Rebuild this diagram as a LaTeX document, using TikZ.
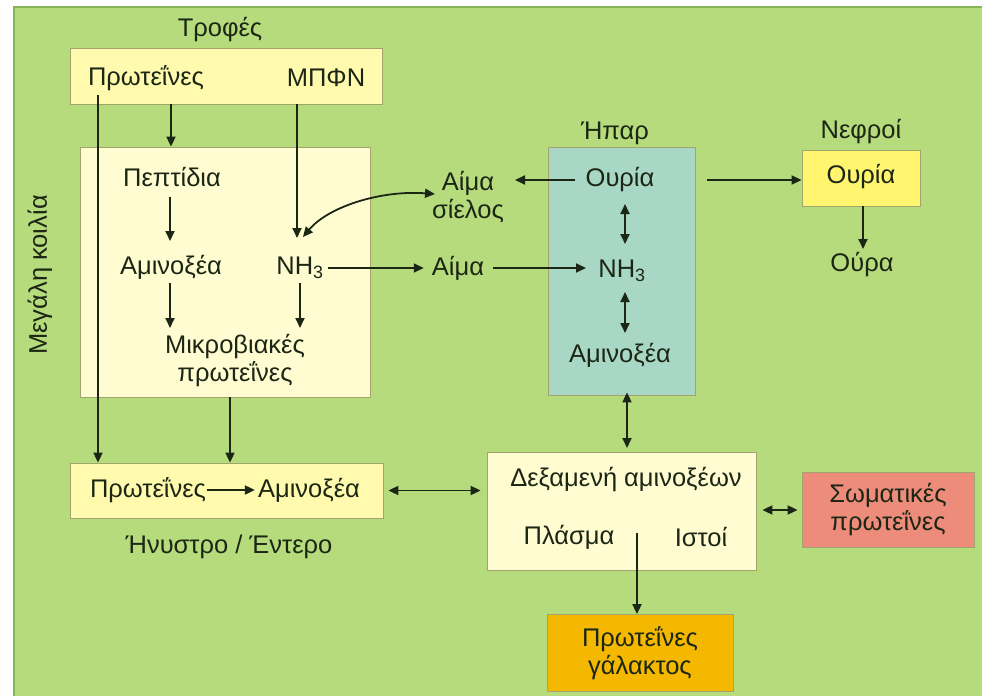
\documentclass[tikz,border=0pt]{standalone}
\usepackage{fontspec}
\setmainfont{Liberation Sans}
\usetikzlibrary{arrows.meta}
\definecolor{bggreen}{HTML}{B5DB7C}
\definecolor{bgedge}{HTML}{86B556}
\definecolor{paleyel}{HTML}{FFFAAE}
\definecolor{paleryel}{HTML}{FFFCD2}
\definecolor{liverc}{HTML}{A9D7C6}
\definecolor{kidneyc}{HTML}{FFF56E}
\definecolor{milkc}{HTML}{F4B800}
\definecolor{somac}{HTML}{EE8C7B}
\definecolor{inkc}{HTML}{1C2614}
\definecolor{edgec}{HTML}{A3A36E}
\begin{document}
\begin{tikzpicture}[x=1pt,y=-1pt,
  every node/.style={text=inkc,font=\fontsize{25.5}{28}\selectfont,inner sep=0pt},
  boxst/.style={draw=edgec,line width=0.8pt,rectangle},
  lbl/.style={align=center},
  arr/.style={draw=inkc,line width=1.8pt,-{Triangle[length=10pt,width=9pt]}},
  dbl/.style={draw=inkc,line width=1.8pt,{Triangle[length=10pt,width=9pt]}-{Triangle[length=10pt,width=9pt]}}]
\useasboundingbox (0,0) rectangle (982,696);
\fill[white] (0,0) rectangle (982,696);
\fill[bggreen] (13,6) rectangle (982,696);
\draw[bgedge,line width=2pt] (14,696) -- (14,7) -- (982,7);

% boxes
\node[boxst,fill=paleyel,minimum width=312pt,minimum height=56pt] (topbox) at (226,76) {};
\node[boxst,fill=paleryel,minimum width=290pt,minimum height=250pt] (rumen) at (225,272) {};
\node[boxst,fill=paleyel,minimum width=313pt,minimum height=55pt] (hbox) at (226.5,490.5) {};
\node[boxst,fill=paleryel,minimum width=269pt,minimum height=118pt] (pool) at (621.5,511) {};
\node[boxst,fill=milkc,minimum width=186pt,minimum height=77pt] (milk) at (640,653) {};
\node[boxst,fill=somac,minimum width=172pt,minimum height=75pt] (soma) at (888,509.5) {};
\node[boxst,fill=liverc,minimum width=147pt,minimum height=248pt] (liver) at (621.5,271) {};
\node[boxst,fill=kidneyc,minimum width=118pt,minimum height=56pt] (kidney) at (861,178) {};

% labels
\node (trofes) at (220,30) {Τροφές};
\node (prot1) at (146,78) {Πρωτεΐνες};
\node (mpfn) at (326,78) {ΜΠΦΝ};
\node[rotate=90] (megali) at (40,275) {Μεγάλη κοιλία};
\node (pept) at (172,177) {Πεπτίδια};
\node (amr) at (171,267) {Αμινοξέα};
\node (nh3r) at (300,268) {NH\textsubscript{3}};
\node[lbl] (mikro) at (235,361) {Μικροβιακές\\πρωτεΐνες};
\node (prot2) at (148,490) {Πρωτεΐνες};
\node (am2) at (309,490) {Αμινοξέα};
\node (hnystro) at (229,547) {Ήνυστρο / Έντερο};
\node[lbl] (aimas) at (468,197) {Αίμα\\σίελος};
\node (aima) at (458,268) {Αίμα};
\node (hpar) at (615,133) {Ήπαρ};
\node (ouriaL) at (620,180) {Ουρία};
\node (nh3L) at (622,271) {NH\textsubscript{3}};
\node (amL) at (620,355) {Αμινοξέα};
\node (nefroi) at (861,132) {Νεφροί};
\node (ouriaK) at (861,177) {Ουρία};
\node (oura) at (862,265) {Ούρα};
\node (dexam) at (626,480) {Δεξαμενή αμινοξέων};
\node (plasma) at (569,537) {Πλάσμα};
\node (istoi) at (701,537) {Ιστοί};
\node[lbl] (milkt) at (640,653) {Πρωτεΐνες\\γάλακτος};
\node[lbl] (somat) at (888,510) {Σωματικές\\πρωτεΐνες};

% connectors
\coordinate (pl) at (98,95);
\draw[arr] (pl) -- (pl |- hbox.north);
\draw[arr] (topbox.south -| 171,0) -- (rumen.north -| 171,0);
\draw[arr] (topbox.south -| 297,0) -- (297,238);
\draw[arr] (170,197) -- (170,241);
\draw[arr] (170,283) -- (170,328);
\draw[arr] (300,283) -- (300,328);
\draw[arr] (rumen.south -| 230,0) -- (hbox.north -| 230,0);
\draw[arr] ([xshift=1pt]prot2.east) -- ([xshift=-3pt]am2.west);
\draw[dbl] ([xshift=5pt]hbox.east) -- ([xshift=-6pt]pool.west |- hbox.east);
\draw[dbl] (303,237) .. controls (328,207) and (380,190) .. (435,194);
\draw[arr] ([xshift=4pt]nh3r.east) -- ([xshift=-8pt]aima.west);
\draw[arr] ([xshift=9pt]aima.east) -- (586,268);
\draw[arr] ([xshift=-10pt]ouriaL.west) -- (515,180);
\draw[dbl] (625,204) -- (625,244);
\draw[dbl] (625,292) -- (625,333);
\draw[arr] (707,180) -- (kidney.west |- 0,180);
\draw[arr] (kidney.south -| 863,0) -- (863,249);
\draw[dbl] ([yshift=3pt]liver.south -| 627,0) -- (627,448);
\draw[dbl] ([xshift=6pt]pool.east |- 0,510) -- ([xshift=-4pt]soma.west |- 0,510);
\draw[arr] (637,533) -- (milk.north -| 637,0);
\end{tikzpicture}
\end{document}
